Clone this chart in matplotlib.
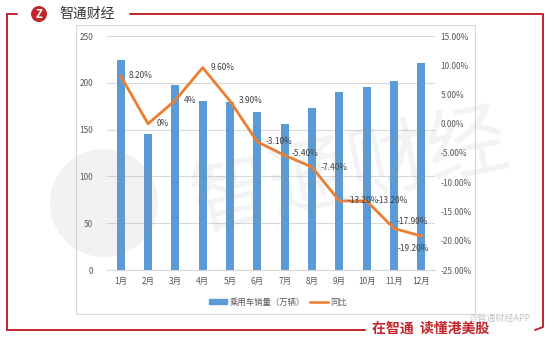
import matplotlib.pyplot as plt
from matplotlib.patches import Ellipse, Rectangle
from matplotlib.lines import Line2D
from matplotlib.ticker import FuncFormatter

plt.rcParams['font.family'] = ['Noto Sans CJK SC', 'DejaVu Sans']

# data
months = ['1月', '2月', '3月', '4月', '5月', '6月',
          '7月', '8月', '9月', '10月', '11月', '12月']
sales = [224, 145, 198, 180.5, 180, 168.5, 156.5, 173, 190.5, 195, 202, 221.5]
yoy = [8.2, 0, 4, 9.6, 3.9, -3.1, -5.4, -7.4, -13.2, -13.2, -17.9, -19.2]
yoy_labels = ['8.20%', '0%', '4%', '9.60%', '3.90%', '-3.10%', '-5.40%',
              '-7.40%', '-13.20%', '-13.20%', '-17.90%', '-19.20%']

W, H = 554, 344
RED = '#c0272d'
BLUE = '#5b9bd5'
ORANGE = '#ed7d31'
GREY = '#595959'


def fx(x):
    return x / W


def fy(y):
    return 1 - y / H


def circle(cx, cy, r, **kw):
    # round in pixels, so the figure-fraction radii differ
    return Ellipse((fx(cx), fy(cy)), 2 * r / W, 2 * r / H,
                   transform=fig.transFigure, **kw)


fig = plt.figure(figsize=(W / 100, H / 100), dpi=100)
fig.patch.set_facecolor('white')

# chart panel
panel = Rectangle((fx(76), fy(314)), fx(475) - fx(76), fy(25) - fy(314),
                  transform=fig.transFigure, facecolor='white',
                  edgecolor='#d9d9d9', lw=0.8, zorder=-5)
fig.patches.append(panel)

ax = fig.add_axes([fx(107), fy(270), fx(435) - fx(107), fy(36) - fy(270)])
ax.set_facecolor('none')
x = list(range(len(months)))
ax.bar(x, sales, width=0.3, color=BLUE, zorder=2)
ax.set_xlim(-0.5, 11.5)
ax.set_ylim(0, 250)
ax.set_yticks(range(0, 251, 50))
ax.grid(axis='y', color='#d9d9d9', lw=0.8, zorder=0)
ax.set_axisbelow(True)
ax.set_xticks(x)
ax.set_xticklabels(months)
for s in ax.spines.values():
    s.set_visible(False)
ax.spines['bottom'].set_visible(True)
ax.spines['bottom'].set_color('#d9d9d9')
ax.tick_params(length=0, labelsize=6, colors=GREY)
ax.tick_params(axis='x', pad=5)
ax.tick_params(axis='y', pad=10)

ax2 = ax.twinx()
ax2.set_ylim(-25, 15)
ax2.set_yticks(range(-25, 16, 5))
ax2.yaxis.set_major_formatter(FuncFormatter(lambda v, p: f'{v:.2f}%'))
for s in ax2.spines.values():
    s.set_visible(False)
ax2.tick_params(length=0, labelsize=6, colors=GREY, pad=4)
ax2.plot(x, yoy, color=ORANGE, lw=2, zorder=3)

# data labels (offsets in points, manually placed like the original)
offsets = [(6, 0), (6, 0), (6, 0), (6, 0), (6, 0), (6, 0), (5, 1),
           (6, 0), (6, 0), (7, 0), (2, 5), (-17, -9)]
for i, (v, lab) in enumerate(zip(yoy, yoy_labels)):
    ax2.annotate(lab, (i, v), xytext=offsets[i], textcoords='offset points',
                 ha='left', va='center', fontsize=6, color='#404040', zorder=4)

# legend
handles = [Rectangle((0, 0), 1, 1, color=BLUE),
           Line2D([0], [0], color=ORANGE, lw=1.8)]
fig.legend(handles, ['乘用车销量（万辆）', '同比'], loc='center',
           bbox_to_anchor=(fx(278), fy(302)), ncol=2, frameon=False,
           fontsize=6, labelcolor=GREY, handlelength=2.2, handleheight=0.6,
           columnspacing=0.6, handletextpad=0.3)

# watermark
fig.text(fx(350), fy(174), '智通财经', fontsize=58, color='#9a9a9a', alpha=0.12,
         rotation=12, ha='center', va='center', zorder=10)
fig.patches.append(circle(104, 203, 54, facecolor='#9a9a9a', alpha=0.12,
                          edgecolor='none', zorder=10))

# red frame and header
frame_kw = dict(color=RED, lw=1.4, transform=fig.transFigure, solid_capstyle='round')
fig.add_artist(Line2D([fx(7), fx(17)], [fy(14), fy(14)], **frame_kw))
fig.add_artist(Line2D([fx(7), fx(7)], [fy(14), fy(330)], **frame_kw))
fig.add_artist(Line2D([fx(7), fx(365)], [fy(330), fy(330)], **frame_kw))
fig.add_artist(Line2D([fx(130), fx(543), fx(543), fx(535)],
                      [fy(14), fy(14), fy(327), fy(330)], **frame_kw))
fig.patches.append(circle(39, 14, 8, facecolor=RED, edgecolor='none'))
fig.text(fx(39), fy(14.5), 'Z', fontsize=8, color='white', fontweight='bold',
         ha='center', va='center', style='italic')
fig.text(fx(59), fy(14), '智通财经', fontsize=10, color='#333333', ha='left', va='center')
fig.text(fx(372), fy(329), '在智通  读懂港美股', fontsize=10, color=RED,
         fontweight='bold', ha='left', va='center')
fig.text(fx(470), fy(318), '@智通财经APP', fontsize=6.5, color='#aaaaaa', alpha=0.7,
         ha='left', va='center')

fig.savefig('out.png', dpi=100)
